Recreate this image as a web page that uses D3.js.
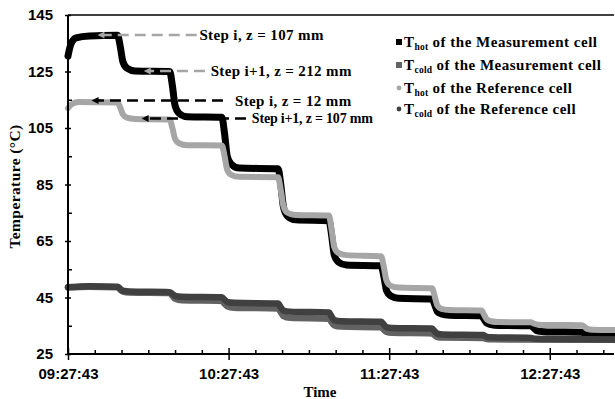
<!DOCTYPE html>
<html>
<head>
<meta charset="utf-8">
<script src="https://cdn.jsdelivr.net/npm/d3@7"></script>
<style>
  body { margin: 0; background: #fff; }
  svg { display: block; }
</style>
</head>
<body>
<div class="wrapper"></div>
<script>
// minutes after 09:27:43 , temperature in °C
var hotMeasurement = [
  [0, 130.5], [1, 134.5], [3, 136.9], [8, 137.6], [18.5, 137.8],
  [19.5, 134], [20.5, 128.5], [22, 126.2], [25, 125.2], [38, 125],
  [39, 120], [40, 113], [41.5, 110.2], [44.5, 109], [57.5, 108.8],
  [58.5, 103], [59.5, 95], [61, 92.2], [64, 90.8], [78.5, 90.6],
  [79.5, 85], [80.5, 77], [82, 73.8], [85, 72.5], [97.5, 72.2],
  [98.5, 67], [99.5, 60], [101, 57.6], [104, 56.5], [117, 56.2],
  [118, 52.5], [119, 47.5], [120.5, 45.6], [123.5, 44.7], [136, 44.5],
  [137, 42.5], [138, 40], [139.5, 39.2], [142.5, 38.7], [154.5, 38.5],
  [155.5, 37.2], [156.5, 35.9], [158, 35.4], [161, 35.1], [173, 35],
  [174, 34.2], [175, 33.3], [176.5, 33], [179, 32.8], [192, 32.7],
  [193, 32.3], [194, 32], [196, 31.8], [204, 31.7]
];
var coldMeasurement = [
  [0, 48.6], [8, 48.8], [18.5, 48.6],
  [19.5, 47.8], [20.5, 47.1], [23, 46.8], [38, 46.6],
  [39, 45.6], [40, 44.6], [42.5, 44], [57.5, 43.8],
  [58.5, 42.8], [59.5, 41.9], [62, 41.4], [78.5, 41.1],
  [79.5, 39.8], [80.5, 38.4], [83, 37.8], [97.5, 37.5],
  [98.5, 36.2], [99.5, 35.1], [102, 34.7], [117, 34.5],
  [118, 33.6], [119, 32.8], [121, 32.5], [136, 32.3],
  [137, 31.6], [138, 31], [140, 30.8], [155, 30.7],
  [156.5, 30.3], [158, 30.2], [204, 30]
];
var hotReference = [
  [0, 112], [1.5, 113.5], [4, 114.2], [18.5, 114],
  [19.5, 112.3], [20.5, 109.8], [22, 108.7], [25, 108.2], [38, 108],
  [39, 105], [40, 101.2], [41.5, 99.6], [44.5, 98.9], [57.5, 98.8],
  [58.5, 95], [59.5, 90.2], [61, 88.4], [64, 87.7], [78.5, 87.6],
  [79.5, 83], [80.5, 77.3], [82, 75], [85, 74.2], [97.5, 74],
  [98.5, 69], [99.5, 62.8], [101, 60.8], [104, 60], [117, 59.6],
  [118, 55.8], [119, 51], [120.5, 49.2], [123.5, 48.5], [136, 48.3],
  [137, 45.5], [138, 42.2], [139.5, 41], [142.5, 40.6], [154.5, 40.4],
  [155.5, 38.8], [156.5, 37.2], [158, 36.6], [161, 36.3], [173, 36.2],
  [174, 35.8], [175, 35.5], [177, 35.3], [192, 35.2],
  [193, 34.6], [194, 33.9], [196, 33.6], [204, 33.5]
];
var coldReference = [
  [0, 48.6], [8, 49], [18.5, 48.8],
  [19.5, 48.1], [20.5, 47.4], [23, 47.1], [38, 46.9],
  [39, 46.3], [40, 45.6], [42.5, 45.3], [57.5, 45.1],
  [58.5, 44.2], [59.5, 43.4], [62, 43.1], [78.5, 42.9],
  [79.5, 41.5], [80.5, 40.4], [83, 40], [97.5, 39.7],
  [98.5, 38.2], [99.5, 37], [102, 36.6], [117, 36.4],
  [118, 35.4], [119, 34.5], [121, 34.2], [136, 34],
  [137, 33], [138, 32.2], [140, 31.9], [155, 31.7],
  [156.5, 31.1], [158, 30.9], [173, 30.7],
  [174.5, 30.4], [192, 30.2], [204, 30.1]
];

var yTicks = [25, 45, 65, 85, 105, 125, 145];
var yMinorTicks = [35, 55, 75, 95, 115, 135];
var xTickLabels = ["09:27:43", "10:27:43", "11:27:43", "12:27:43"];
var xTickMinutes = [0, 60, 120, 180];
var xMinorMinutes = [10, 20, 30, 40, 50, 70, 80, 90, 100, 110, 130, 140, 150, 160, 170, 190, 200];

var legendSubs = ["hot", "cold", "hot", "cold"];
var legendRest = [" of the Measurement cell", " of the Measurement cell", " of the Reference cell", " of the Reference cell"];

var annotationLabels = ["Step i, z = 107 mm", "Step i+1, z = 212 mm", "Step i, z = 12 mm", "Step i+1, z = 107 mm"];
var annotationTips = [[11, 137.9], [28.3, 125.2], [8.8, 114.7], [27.5, 108.4]];
var annotationLineEnds = [48.1, 51.2, 57.9, 66.5];
var annotationTextStarts = [49.1, 53.3, 62.4, 68.7];

// styles
var seriesList = [
  {data: hotMeasurement, color: "#000000", width: 7, marker: "square"},
  {data: coldMeasurement, color: "#626262", width: 6.5, marker: "square"},
  {data: hotReference, color: "#a6a6a6", width: 6, marker: "circle"},
  {data: coldReference, color: "#404040", width: 6.5, marker: "circle"}
];
var annotationColors = ["#a6a6a6", "#a6a6a6", "#000000", "#000000"];
var annotationSizes = [15, 15, 15, 14];
var annotationSpacing = [0.37, 0.37, 0.37, -0.2];
var legendRowY = [47, 70, 93, 114];

var width = 615, height = 399;
var margin = {top: 15, right: 1, bottom: 45, left: 68};
var startTime = new Date(2020, 0, 1, 9, 27, 43);
var endMinutes = 204;
var serif = "'Liberation Serif', 'Times New Roman', serif";
var sans = "'Liberation Sans', Arial, sans-serif";

function toDate(m) {
  return new Date(startTime.getTime() + m * 60000);
}

var svg = d3.select(".wrapper").append("svg")
  .attr("width", width)
  .attr("height", height);

var x = d3.scaleTime()
  .domain([startTime, toDate(endMinutes)])
  .range([margin.left, width - margin.right]);
var y = d3.scaleLinear()
  .domain([25, 145])
  .range([height - margin.bottom, margin.top]);

// Lines
var line = d3.line()
  .x(d => x(toDate(d[0])))
  .y(d => y(d[1]))
  .curve(d3.curveMonotoneX);

svg.append("g").selectAll("path")
  .data(seriesList)
  .join("path")
  .attr("fill", "none")
  .attr("stroke", d => d.color)
  .attr("stroke-width", d => d.width)
  .attr("stroke-linecap", "round")
  .attr("stroke-linejoin", "round")
  .attr("d", d => line(d.data));

// Top border
svg.append("line")
  .attr("x1", x.range()[0]).attr("x2", x.range()[1])
  .attr("y1", y(145)).attr("y2", y(145))
  .attr("stroke", "#000").attr("stroke-width", 1.5);

// Y axis
var yAxisG = svg.append("g")
  .attr("transform", `translate(${margin.left},0)`)
  .call(d3.axisLeft(y).tickValues(yTicks).tickSize(3).tickPadding(12));
yAxisG.select(".domain").attr("stroke-width", 2).attr("d", `M0,${y(25)}V${y(145)}`);
yAxisG.selectAll(".tick line").attr("x2", 3).attr("x1", -3).attr("stroke-width", 1.5);
yAxisG.selectAll(".tick text")
  .attr("font-family", sans).attr("font-weight", "bold")
  .attr("font-size", 15).attr("fill", "#000");

svg.append("g")
  .attr("transform", `translate(${margin.left},0)`)
  .call(d3.axisRight(y).tickValues(yMinorTicks).tickSize(4).tickFormat(""))
  .call(g => g.select(".domain").remove())
  .selectAll(".tick line").attr("stroke-width", 1.5);

// X axis
var xAxisG = svg.append("g")
  .attr("transform", `translate(0,${y(25)})`)
  .call(d3.axisBottom(x)
    .tickValues(xTickMinutes.map(toDate))
    .tickSize(6)
    .tickFormat((d, i) => xTickLabels[i]));
xAxisG.select(".domain").attr("stroke-width", 2).attr("d", `M${x.range()[0]},0H${x.range()[1]}`);
xAxisG.selectAll(".tick line").attr("y1", -6).attr("y2", 6).attr("stroke-width", 1.5);
xAxisG.selectAll(".tick text")
  .attr("y", 14)
  .attr("font-family", sans).attr("font-weight", "bold")
  .attr("font-size", 15).attr("fill", "#000");

svg.append("g")
  .attr("transform", `translate(0,${y(25)})`)
  .call(d3.axisTop(x).tickValues(xMinorMinutes.map(toDate)).tickSize(4).tickFormat(""))
  .call(g => g.select(".domain").remove())
  .selectAll(".tick line").attr("stroke-width", 1.5);

// Axis titles
svg.append("text")
  .attr("transform", `translate(20,${(y(25) + y(145)) / 2 + 2}) rotate(-90)`)
  .attr("text-anchor", "middle")
  .attr("font-family", serif).attr("font-weight", "bold")
  .attr("font-size", 15.5).attr("letter-spacing", 0.4)
  .text("Temperature (°C)");

svg.append("text")
  .attr("x", 320).attr("y", 397)
  .attr("text-anchor", "middle")
  .attr("font-family", serif).attr("font-weight", "bold")
  .attr("font-size", 15)
  .text("Time");

// Annotations
var annG = svg.append("g").selectAll("g")
  .data(annotationLabels)
  .join("g");

annG.append("line")
  .attr("x1", (d, i) => x(toDate(annotationLineEnds[i])))
  .attr("x2", (d, i) => x(toDate(annotationTips[i][0])) + 5)
  .attr("y1", (d, i) => y(annotationTips[i][1]))
  .attr("y2", (d, i) => y(annotationTips[i][1]))
  .attr("stroke", (d, i) => annotationColors[i])
  .attr("stroke-width", 2.5)
  .attr("stroke-dasharray", "11,6");

annG.append("path")
  .attr("d", (d, i) => {
    var tx = x(toDate(annotationTips[i][0])), ty = y(annotationTips[i][1]);
    return `M${tx},${ty}L${tx + 7},${ty - 3.5}L${tx + 7},${ty + 3.5}Z`;
  })
  .attr("fill", (d, i) => annotationColors[i]);

annG.append("text")
  .attr("x", (d, i) => x(toDate(annotationTextStarts[i])))
  .attr("y", (d, i) => y(annotationTips[i][1]) + 5)
  .attr("font-family", serif).attr("font-weight", "bold")
  .attr("font-size", (d, i) => annotationSizes[i])
  .attr("letter-spacing", (d, i) => annotationSpacing[i])
  .text(d => d);

// Legend
var legendG = svg.append("g").selectAll("g")
  .data(seriesList)
  .join("g")
  .attr("transform", (d, i) => `translate(399,${legendRowY[i]})`);

legendG.filter(d => d.marker === "square").append("rect")
  .attr("x", -3).attr("y", -8).attr("width", 6).attr("height", 6)
  .attr("fill", d => d.color);
legendG.filter(d => d.marker === "circle").append("circle")
  .attr("cx", 0).attr("cy", -5).attr("r", 2.4)
  .attr("fill", d => d.color);

var legendText = legendG.append("text")
  .attr("x", 5)
  .attr("font-family", serif).attr("font-weight", "bold")
  .attr("font-size", 15).attr("letter-spacing", 0.5);
legendText.append("tspan").text("T");
legendText.append("tspan")
  .attr("font-size", 9.5).attr("dy", 3).attr("letter-spacing", 0.2)
  .text((d, i) => legendSubs[i]);
legendText.append("tspan")
  .attr("dy", -3)
  .text((d, i) => legendRest[i]);
</script>
</body>
</html>
